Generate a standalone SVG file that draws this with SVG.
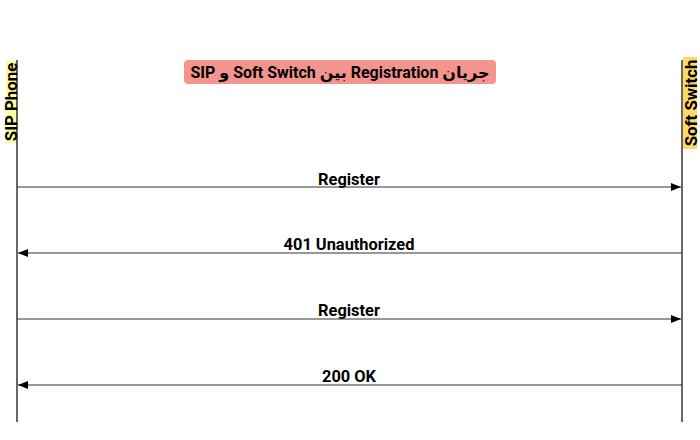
<svg xmlns="http://www.w3.org/2000/svg" width="700" height="440" viewBox="0 0 700 440">
<style>
.lbl{font-family:Roboto,"Liberation Sans","DejaVu Sans",sans-serif;font-weight:bold;font-size:16.4px;fill:#000;text-anchor:middle}
.side{font-family:Roboto,"Liberation Sans","DejaVu Sans",sans-serif;font-weight:bold;font-size:16.8px;fill:#000;text-anchor:middle}
.life{stroke:#000;stroke-width:1.2}
.msg{stroke:#333;stroke-width:1.2;fill:none}
.title{font-family:Roboto,"DejaVu Sans",sans-serif;font-weight:bold;font-size:16px;fill:#000;text-anchor:middle}
</style>
<defs>
<marker id="ah" viewBox="0 0 10 8" refX="10" refY="4" markerWidth="10" markerHeight="8" markerUnits="userSpaceOnUse" orient="auto">
<path d="M0,0 L10,4 L0,8 Z" fill="#000"/>
</marker>
</defs>
<rect width="700" height="440" fill="#fff"/>
<g id="sip-phone">
<rect x="6" y="61" width="11" height="82" fill="#ffff99"/>
<line class="life" x1="17" y1="60" x2="17" y2="422"/>
<text class="side" transform="translate(16.5,102) rotate(-90)">SIP Phone</text>
</g>
<g id="soft-switch">
<rect x="683" y="57" width="14" height="92" fill="#ffd966"/>
<line class="life" x1="682" y1="60" x2="682" y2="422"/>
<text class="side" transform="translate(697,103) rotate(-90)">Soft Switch</text>
</g>
<g id="title">
<rect x="184" y="60" width="312" height="24" rx="4" fill="#f4948e"/>
<text class="title" x="340" y="77.5" direction="rtl" unicode-bidi="embed">جریان Registration بین Soft Switch و SIP</text>
</g>
<g id="connectors">
<line class="msg" x1="17" y1="187" x2="681" y2="187" marker-end="url(#ah)"/>
<text class="lbl" x="349" y="185">Register</text>
<line class="msg" x1="682" y1="253" x2="18" y2="253" marker-end="url(#ah)"/>
<text class="lbl" x="349" y="250">401 Unauthorized</text>
<line class="msg" x1="17" y1="319" x2="681" y2="319" marker-end="url(#ah)"/>
<text class="lbl" x="349" y="316">Register</text>
<line class="msg" x1="682" y1="385" x2="18" y2="385" marker-end="url(#ah)"/>
<text class="lbl" x="349" y="382">200 OK</text>
</g>
</svg>
